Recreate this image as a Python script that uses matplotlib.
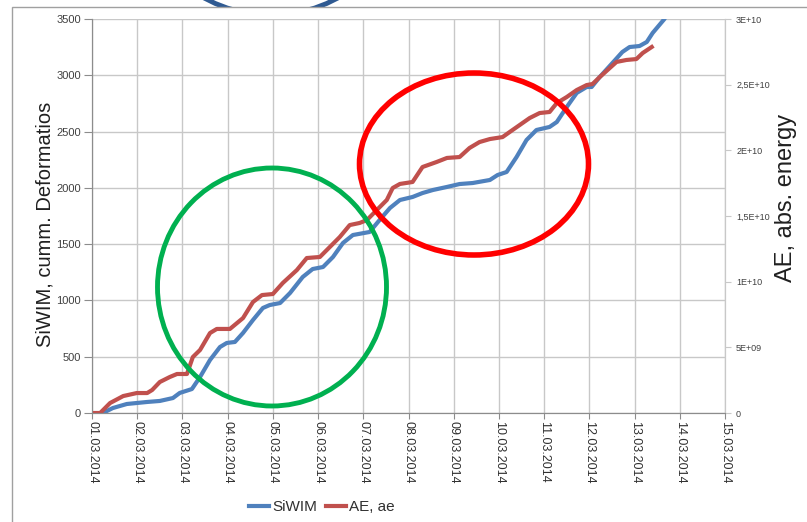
import numpy as np
import matplotlib
matplotlib.use('Agg')
import matplotlib.pyplot as plt
from matplotlib.patches import Ellipse, Rectangle

plt.rcParams['font.family'] = ['Liberation Sans', 'DejaVu Sans']

# dates on x axis (days since 01.03.2014)
date_labels = ['%02d.03.2014' % d for d in range(1, 16)]

# SiWIM cumulative deformations (left axis)
siwim_day = [0.24, 0.46, 0.77, 1.22, 1.50, 1.79, 1.94, 2.21, 2.39, 2.61, 2.83, 2.98,
             3.16, 3.34, 3.56, 3.78, 3.93, 4.16, 4.38, 4.66, 4.88, 5.11, 5.33, 5.55,
             5.77, 6.14, 6.36, 6.59, 6.81, 7.09, 7.31, 7.54, 7.85, 8.13, 8.42, 8.80,
             8.97, 9.17, 9.39, 9.61, 9.83, 10.12, 10.28, 10.50, 10.72, 10.94, 11.05,
             11.23, 11.51, 11.73, 11.89, 12.11, 12.27, 12.40, 12.66, 12.85]
siwim_val = [0, 44, 80, 98, 107, 133, 178, 213, 320, 471, 586, 622,
             631, 711, 826, 933, 959, 977, 1066, 1208, 1279, 1297, 1386, 1510,
             1581, 1608, 1714, 1821, 1892, 1919, 1954, 1981, 2008, 2034, 2043, 2070,
             2114, 2141, 2274, 2425, 2514, 2541, 2585, 2718, 2843, 2896, 2896,
             2985, 3109, 3207, 3251, 3260, 3296, 3376, 3500, 3640]

# AE absolute energy (right axis)
ae_day = [0.02, 0.18, 0.40, 0.69, 0.99, 1.22, 1.33, 1.50, 1.72, 1.88, 2.10, 2.23,
          2.39, 2.61, 2.76, 3.05, 3.34, 3.56, 3.76, 4.00, 4.22, 4.53, 4.75, 5.04,
          5.26, 5.48, 5.70, 5.92, 6.08, 6.30, 6.52, 6.65, 6.81, 7.09, 7.31, 7.62,
          7.85, 8.13, 8.35, 8.57, 8.80, 9.08, 9.24, 9.46, 9.68, 9.90, 10.12, 10.28,
          10.50, 10.72, 10.94, 11.07, 11.23, 11.60, 11.82, 12.04, 12.18, 12.38]
ae_val = np.array([0, 0, 0.076, 0.129, 0.152, 0.152, 0.175, 0.236, 0.274, 0.297, 0.297, 0.426,
                   0.480, 0.609, 0.640, 0.640, 0.723, 0.845, 0.898, 0.906, 0.990, 1.088, 1.180, 1.188,
                   1.264, 1.340, 1.431, 1.447, 1.469, 1.546, 1.622, 1.713, 1.744, 1.759, 1.873, 1.911,
                   1.942, 1.949, 2.018, 2.063, 2.086, 2.101, 2.140, 2.193, 2.246, 2.284, 2.292, 2.360,
                   2.406, 2.459, 2.497, 2.505, 2.558, 2.673, 2.688, 2.695, 2.741, 2.787]) * 1e10

left_ticks = [0, 500, 1000, 1500, 2000, 2500, 3000, 3500]
right_ticks = [0, 5e9, 1e10, 1.5e10, 2e10, 2.5e10, 3e10]
right_labels = ['0', '5E+09', '1E+10', '1,5E+10', '2E+10', '2,5E+10', '3E+10']

W, H = 807, 522
fig = plt.figure(figsize=(W / 100, H / 100), dpi=100)
fig.patch.set_facecolor('white')

def fx(px):
    return px / W

def fy(py):
    return 1 - py / H

# blue circle partly hidden behind the chart frame
fig.add_artist(Ellipse((fx(271), fy(-105)), 260 / W, 240 / H, transform=fig.transFigure,
                       fill=False, ec='#2F5A92', lw=3.5, zorder=-3))
fig.add_artist(Rectangle((fx(12), fy(530)), 1.0, 523 / H, transform=fig.transFigure,
                         fc='white', ec='#A0A0A0', lw=1, zorder=-2))

ax = fig.add_axes([fx(92), fy(413), fx(725) - fx(92), fy(19) - fy(413)])
ax2 = ax.twinx()

grid_c = '#C8C8C8'
ax.set_xlim(0, 14)
ax.set_ylim(0, 3500)
ax2.set_ylim(0, 3e10)
ax.set_xticks(range(15))
ax.set_xticklabels(date_labels, rotation=270, fontsize=9, color='#303030')
ax.set_yticks(left_ticks)
ax.set_yticklabels([str(t) for t in left_ticks], fontsize=8, color='#404040')
ax2.set_yticks(right_ticks)
ax2.set_yticklabels(right_labels, fontsize=6.5, color='#404040')
ax.grid(True, color=grid_c, lw=1)
ax.set_axisbelow(True)
for a in (ax, ax2):
    a.spines['top'].set_visible(False)
    a.spines['left'].set_color('#8C8C8C')
    a.spines['bottom'].set_color('#8C8C8C')
    a.spines['right'].set_color(grid_c)
ax.tick_params(axis='y', length=6, color='#8C8C8C', pad=2)
ax.tick_params(axis='x', length=4, color='#8C8C8C', pad=2)
ax2.tick_params(axis='y', length=4, color=grid_c, pad=4)

l1, = ax.plot(siwim_day, siwim_val, color='#4F81BD', lw=3, label='SiWIM')
l2, = ax2.plot(ae_day, ae_val, color='#C0504D', lw=3, label='AE, ae')

fig.text(fx(45), fy(224), 'SiWIM, cumm. Deformatios', rotation=90, fontsize=14.5,
         ha='center', va='center', color='#202020')
fig.text(fx(786), fy(198), 'AE, abs. energy', rotation=90, fontsize=17,
         ha='center', va='center', color='#202020')

fig.legend([l1, l2], ['SiWIM', 'AE, ae'], loc='center', bbox_to_anchor=(fx(322), fy(507)),
           ncol=2, frameon=False, fontsize=11, handlelength=1.3, handletextpad=0.2,
           columnspacing=0.6, labelcolor='#303030')

# highlight ellipses
fig.add_artist(Ellipse((fx(272), fy(287)), 229 / W, 238 / H, transform=fig.transFigure,
                       fill=False, ec='#00B050', lw=3.5, zorder=5))
fig.add_artist(Ellipse((fx(474), fy(164)), 229 / W, 182 / H, transform=fig.transFigure,
                       fill=False, ec='#FF0000', lw=4, zorder=5))

fig.savefig('out.png', dpi=100)
